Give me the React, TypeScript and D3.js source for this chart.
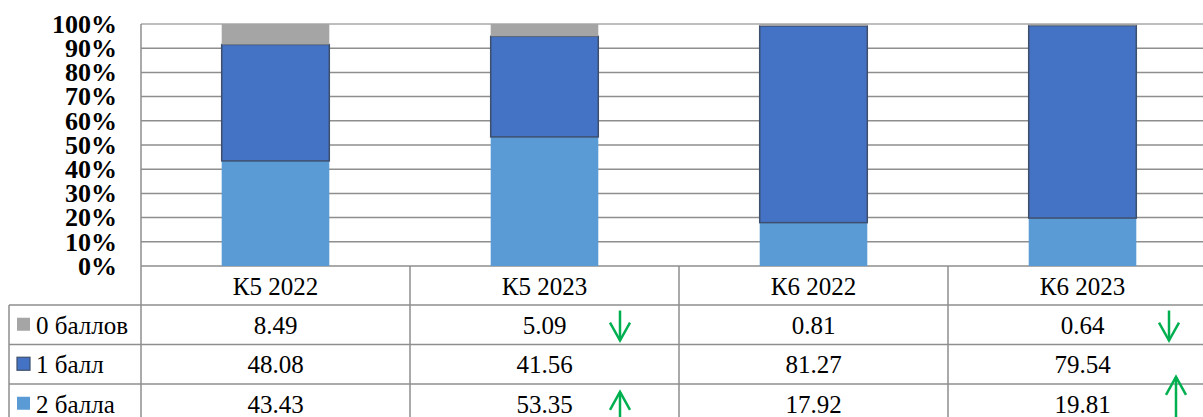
import React from "react";
import * as d3 from "d3";

// категории и значения (проценты)
const categories = ["К5 2022", "К5 2023", "К6 2022", "К6 2023"];
const seriesNames = ["0 баллов", "1 балл", "2 балла"];
const zeroPoints = [8.49, 5.09, 0.81, 0.64];
const onePoint = [48.08, 41.56, 81.27, 79.54];
const twoPoints = [43.43, 53.35, 17.92, 19.81];
const yTicks = [0, 10, 20, 30, 40, 50, 60, 70, 80, 90, 100];

// стрелки-пометки в таблице: колонка, строка, направление
const arrows = [
  { col: 1, row: 0, dir: "down", dx: -59, y1: 0.14, y2: 0.9 },
  { col: 3, row: 0, dir: "down", dx: -48, y1: 0.14, y2: 0.9 },
  { col: 1, row: 2, dir: "up", dx: -59, y1: 0.2, y2: 1.2 },
  { col: 3, row: 1, dir: "up", dx: -41, y1: 0.82, y2: 2.1 },
];

const colors: Record<string, string> = {
  "0 баллов": "#a5a5a5",
  "1 балл": "#4472c4",
  "2 балла": "#5b9bd5",
};

const W = 1203;
const H = 417;
const left = 141;
const colW = 269;
const top = 24;
const bottom = 266;
const headerH = 39;
const rowH = 39.5;
const legendLeft = 9;
const font = "Liberation Serif, Tinos, Times New Roman, DejaVu Serif, serif";
const gridColor = "#8e8e8e";

export default function App() {
  const rows = categories.map((c, i) => ({
    cat: c,
    "0 баллов": zeroPoints[i],
    "1 балл": onePoint[i],
    "2 балла": twoPoints[i],
  }));
  const values: Record<string, number[]> = {
    "0 баллов": zeroPoints,
    "1 балл": onePoint,
    "2 балла": twoPoints,
  };

  const x = d3
    .scaleBand<string>()
    .domain(categories)
    .range([left, left + colW * categories.length])
    .padding(0);
  const bw = x.bandwidth() * 0.4;
  const y = d3.scaleLinear().domain([0, 100]).range([bottom, top]);

  // снизу вверх: 2 балла, 1 балл, 0 баллов
  const stack = d3.stack<any>().keys(["2 балла", "1 балл", "0 баллов"]);
  const layers = stack(rows);

  const tableTop = bottom;
  const rowY = (r: number) => tableTop + headerH + r * rowH;
  const tableRight = left + colW * categories.length;

  return (
    <div style={{ position: "absolute", left: 0, top: 0 }}>
      <svg width={W} height={H} style={{ display: "block", background: "#fff", fontFamily: font }}>
        {/* сетка */}
        {yTicks.map((t) => (
          <line
            key={t}
            x1={left}
            x2={tableRight}
            y1={y(t)}
            y2={y(t)}
            stroke={t === 100 ? "#a8a8a8" : gridColor}
            strokeWidth={1.5}
          />
        ))}
        <line x1={left} x2={left} y1={top} y2={H} stroke={gridColor} strokeWidth={1.5} />

        {/* подписи оси Y */}
        {yTicks.map((t) => (
          <text
            key={t}
            x={117}
            y={y(t)}
            dy="0.34em"
            textAnchor="end"
            style={{ fontFamily: font }}
            fontWeight="bold"
            fontSize={26}
            fill="#000"
          >
            {t}%
          </text>
        ))}

        {/* столбцы */}
        {layers.map((layer) => (
          <g key={layer.key}>
            {layer.map((d, i) => {
              const x0 = (x(categories[i]) as number) + (x.bandwidth() - bw) / 2;
              const isMid = layer.key === "1 балл";
              return (
                <rect
                  key={i}
                  x={x0}
                  y={y(d[1])}
                  width={bw}
                  height={y(d[0]) - y(d[1])}
                  fill={colors[layer.key]}
                  stroke={isMid ? "#3d4f6d" : "none"}
                  strokeWidth={isMid ? 1.5 : 0}
                />
              );
            })}
          </g>
        ))}

        {/* таблица данных */}
        <g>
          {categories.map((c, i) => (
            <line
              key={c}
              x1={(x(c) as number) + colW}
              x2={(x(c) as number) + colW}
              y1={tableTop}
              y2={H}
              stroke={gridColor}
              strokeWidth={1.5}
            />
          ))}
          {seriesNames.map((s, r) => (
            <line
              key={s}
              x1={legendLeft}
              x2={tableRight}
              y1={rowY(r)}
              y2={rowY(r)}
              stroke={gridColor}
              strokeWidth={1.5}
            />
          ))}
          <line x1={legendLeft} x2={legendLeft} y1={rowY(0)} y2={H} stroke={gridColor} strokeWidth={1.5} />

          {categories.map((c) => (
            <text
              key={c}
              x={(x(c) as number) + colW / 2}
              y={tableTop + headerH / 2}
              dy="0.36em"
              textAnchor="middle"
              style={{ fontFamily: font }}
              fontSize={25}
              fill="#000"
            >
              {c}
            </text>
          ))}

          {seriesNames.map((s, r) => (
            <g key={s}>
              <rect
                x={17}
                y={rowY(r) + rowH / 2 - 7}
                width={13}
                height={13}
                fill={colors[s]}
                stroke={s === "1 балл" ? "#3d4f6d" : "none"}
                strokeWidth={1.2}
              />
              <text
                x={36}
                y={rowY(r) + rowH / 2}
                dy="0.36em"
                style={{ fontFamily: font }}
                fontSize={25}
                fill="#000"
              >
                {s}
              </text>
              {categories.map((c, i) => (
                <text
                  key={c}
                  x={(x(c) as number) + colW / 2}
                  y={rowY(r) + rowH / 2}
                  dy="0.36em"
                  textAnchor="middle"
                  style={{ fontFamily: font }}
                  fontSize={25}
                  fill="#000"
                >
                  {values[s][i].toFixed(2)}
                </text>
              ))}
            </g>
          ))}
        </g>

        {/* стрелки */}
        {arrows.map((a, k) => {
          const ax = (x(categories[a.col]) as number) + colW + a.dx;
          const ya = rowY(a.row) + a.y1 * rowH;
          const yb = Math.min(rowY(a.row) + a.y2 * rowH, H + 5);
          const tip = a.dir === "down" ? yb : ya;
          const back = a.dir === "down" ? -1 : 1;
          const head = `M${ax - 10},${tip + back * 18} L${ax},${tip} L${ax + 10},${tip + back * 18}`;
          return (
            <g key={k} stroke="#00b050" strokeWidth={2.5} fill="none">
              <line x1={ax} x2={ax} y1={ya} y2={yb} />
              <path d={head} />
            </g>
          );
        })}
      </svg>
    </div>
  );
}
